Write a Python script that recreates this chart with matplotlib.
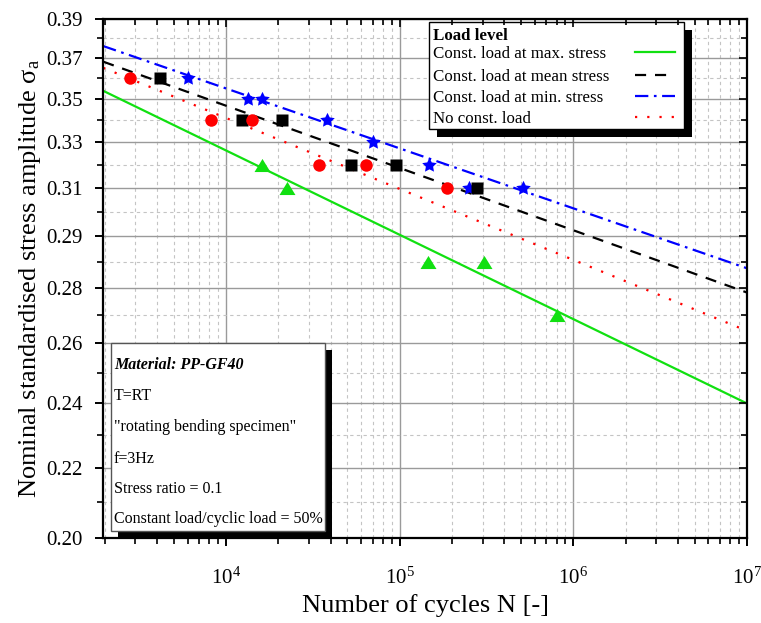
import numpy as np
import matplotlib
matplotlib.use('Agg')
import matplotlib.pyplot as plt
from matplotlib.patches import Rectangle
from matplotlib.ticker import NullFormatter

plt.rcParams['font.family'] = ['Liberation Serif', 'DejaVu Serif']
plt.rcParams['mathtext.fontset'] = 'custom'
plt.rcParams['mathtext.rm'] = 'Liberation Serif'
plt.rcParams['mathtext.it'] = 'Liberation Serif:italic'
plt.rcParams['mathtext.bf'] = 'Liberation Serif:bold'

# S-N fit lines, read at both ends of the x axis
line_n = [1960, 1e7]
max_line = [0.3557, 0.2379]
mean_line = [0.3693, 0.2744]
min_line = [0.3768, 0.2831]
none_line = [0.3664, 0.2612]

# test results (cycles, stress amplitude)
max_n = [16060, 22380, 146000, 306900, 808800]
max_s = [0.3235, 0.314, 0.2855, 0.2855, 0.2665]
mean_n = [4165, 12320, 21110, 52330, 95460, 278600]
mean_s = [0.3615, 0.3425, 0.3425, 0.3235, 0.3235, 0.314]
min_n = [6016, 13390, 16130, 38050, 69700, 146600, 249300, 510300]
min_s = [0.3615, 0.352, 0.352, 0.3425, 0.333, 0.3235, 0.314, 0.314]
none_n = [2797, 8197, 14060, 34500, 64100, 187200]
none_s = [0.3615, 0.3425, 0.3425, 0.3235, 0.3235, 0.314]

y_ticks = [0.2 + 0.019 * i for i in range(11)]
y_labels = ['0.20', '0.22', '0.24', '0.26', '0.28', '0.29',
            '0.31', '0.33', '0.35', '0.37', '0.39']
y_minor = [0.2095 + 0.019 * i for i in range(10)]
x_ticks = [1e4, 1e5, 1e6, 1e7]
x_minor = [m * 10 ** e for e in range(3, 7) for m in range(2, 10)]

legend_labels = ['Const. load at max. stress', 'Const. load at mean stress',
                 'Const. load at min. stress', 'No const. load']
info_lines = ['Material: PP-GF40', 'T=RT', '"rotating bending specimen"',
              'f=3Hz', 'Stress ratio = 0.1', 'Constant load/cyclic load = 50%']

green = '#11e011'
styles = [dict(color=green, ls='-'),
          dict(color='black', ls=(0, (5, 4))),
          dict(color='blue', ls=(0, (6, 2.5, 1.2, 2.5))),
          dict(color='red', ls=(0, (1, 4.5)))]

fig = plt.figure(figsize=(7.61, 6.23), dpi=100)
pos = [0.1357, 0.1360, 0.8458, 0.8330]
ax = fig.add_axes(pos)

ax.set_xscale('log')
ax.set_yscale('log')

for vals, st in zip([max_line, mean_line, min_line, none_line], styles):
    ax.plot(line_n, vals, lw=1.6, **st)

tri = [(-1, -0.82), (1, -0.82), (0, 0.82)]
ax.plot(max_n, max_s, marker=tri, ls='none', color=green, ms=11.5, mec='none', zorder=4)
ax.plot(min_n, min_s, marker=(5, 1, 0), ls='none', color='blue', ms=11, mec='none', zorder=4)
ax.plot(mean_n, mean_s, 's', color='black', ms=8, mec='none', zorder=4)
ax.plot(none_n, none_s, 'o', color='red', ms=9, mec='none', zorder=4)

ax.set_xlim(1960, 1e7)
ax.set_ylim(0.2, 0.39)
ax.set_xticks(x_ticks)
ax.set_xticks(x_minor, minor=True)
ax.set_yticks(y_ticks)
ax.set_yticklabels(y_labels)
ax.set_yticks(y_minor, minor=True)
ax.yaxis.set_minor_formatter(NullFormatter())
ax.xaxis.set_minor_formatter(NullFormatter())

ax.grid(True, which='major', color='#9a9a9a', lw=1.0, ls='-')
ax.grid(True, which='minor', color='#c4c4c4', lw=0.8, ls=(0, (3, 3)))
ax.set_axisbelow(True)

for s in ax.spines.values():
    s.set_linewidth(1.6)
ax.tick_params(which='major', direction='out', length=6, width=1.4, labelsize=15, pad=9)
ax.tick_params(which='minor', direction='out', length=4, width=1.2)
ax.tick_params(axis='x', which='major', pad=15)

# inward ticks on top and right
ax2 = fig.add_axes(pos, sharex=ax, sharey=ax, frameon=False)
ax2.patch.set_visible(False)
ax2.tick_params(which='both', direction='in', top=True, right=True, bottom=False,
                left=False, labelbottom=False, labelleft=False, width=1.2)
ax2.tick_params(which='major', length=6)
ax2.tick_params(which='minor', length=4)

ax.set_xlabel('Number of cycles N [-]', fontsize=19, labelpad=4)
ax.set_ylabel('Nominal standardised stress amplitude σ$_\\mathrm{a}$', fontsize=19, labelpad=2)

# legend box (text left, line samples right) with black shadow
lx0, ly0, lx1, ly1 = 0.506, 0.7886, 0.902, 0.9942
dx, dy = 8 / 643.7, 8 / 519
ax.add_patch(Rectangle((lx0 + dx, ly0 - dy), lx1 - lx0, ly1 - ly0, transform=ax.transAxes,
                       facecolor='black', edgecolor='none', zorder=5.5, clip_on=False))
ax.add_patch(Rectangle((lx0, ly0), lx1 - lx0, ly1 - ly0, transform=ax.transAxes,
                       facecolor='white', edgecolor='black', lw=1.0, zorder=6, clip_on=False))
ax.text(0.5119, 0.968, 'Load level', transform=ax.transAxes, fontsize=12.2,
        fontweight='bold', va='center', ha='left', zorder=7)
row_y = [0.9325, 0.8893, 0.8477, 0.8079]
for lab, yy, st in zip(legend_labels, row_y, styles):
    ax.text(0.5119, yy, lab, transform=ax.transAxes, fontsize=12.2, va='center',
            ha='left', zorder=7)
    ax.plot([0.826, 0.8886], [yy + 0.004, yy + 0.004], transform=ax.transAxes, lw=1.6,
            zorder=7, clip_on=False, **st)

# info box with shadow
bx0, by0, bw, bh = 0.0115, 0.0141, 0.3329, 0.3628
ax.add_patch(Rectangle((bx0 + 0.0116, by0 - 0.0145), bw, bh, transform=ax.transAxes,
                       facecolor='black', edgecolor='none', zorder=5.5, clip_on=False))
ax.add_patch(Rectangle((bx0, by0), bw, bh, transform=ax.transAxes,
                       facecolor='white', edgecolor='#555555', lw=1.0, zorder=6))
line_y = [0.3332, 0.2735, 0.2143, 0.1532, 0.0954, 0.0365]
for i, (txt, yy) in enumerate(zip(info_lines, line_y)):
    kw = dict(fontweight='bold', fontstyle='italic') if i == 0 else {}
    ax.text(0.0166, yy, txt, transform=ax.transAxes, fontsize=11.5, va='center',
            ha='left', zorder=7, **kw)

fig.savefig('out.png', dpi=100)
